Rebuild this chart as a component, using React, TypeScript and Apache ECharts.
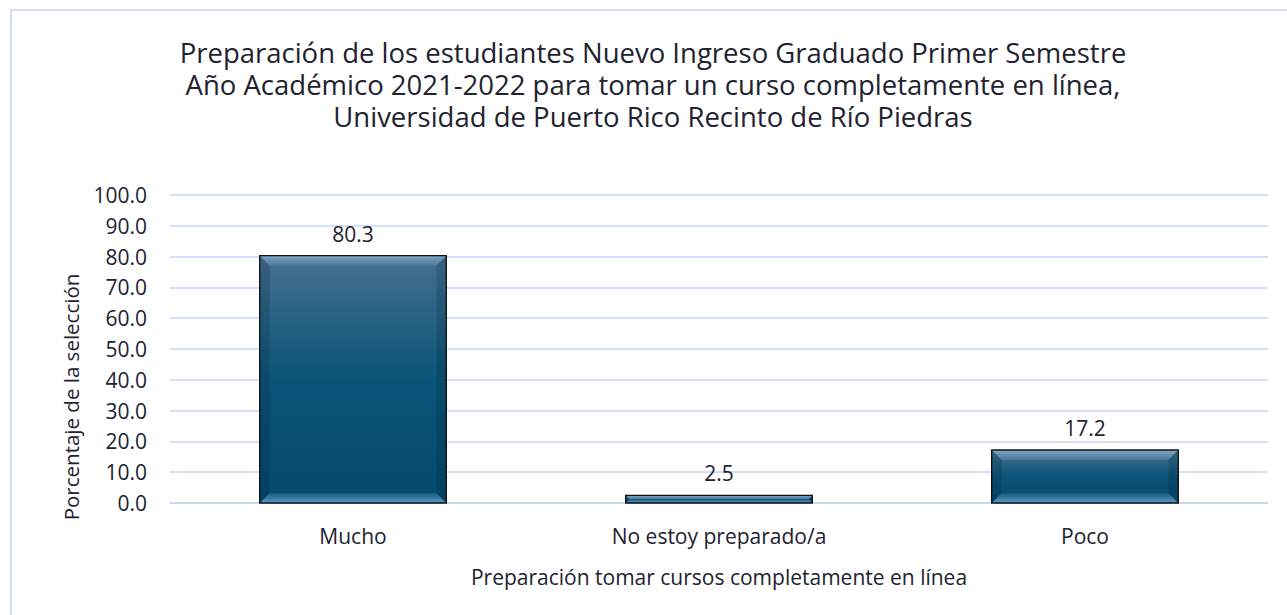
import React, { useEffect, useRef } from "react";
import * as echarts from "echarts";

const titleLines = [
  "Preparación de los estudiantes Nuevo Ingreso Graduado Primer Semestre",
  "Año Académico 2021-2022 para tomar un curso completamente en línea,",
  "Universidad de Puerto Rico Recinto de Río Piedras",
];
const categories = ["Mucho", "No estoy preparado/a", "Poco"];
const values = [80.3, 2.5, 17.2];
const yAxisName = "Porcentaje de la selección";
const xAxisName = "Preparación tomar cursos completamente en línea";

const FONT = "Open Sans";
const TEXT = "#222230";

export default function App() {
  const ref = useRef<HTMLDivElement>(null);
  useEffect(() => {
    if (!ref.current) return;
    const chart = echarts.init(ref.current, undefined, { renderer: "svg" });
    const lg = (stops: [number, string][]) =>
      new echarts.graphic.LinearGradient(0, 0, 0, 1, stops.map(([offset, color]) => ({ offset, color })));
    chart.setOption({
      animation: false,
      backgroundColor: "#ffffff",
      textStyle: { fontFamily: FONT },
      graphic: [
        {
          type: "rect",
          shape: { x: 11, y: 10, width: 1400, height: 700 },
          style: { fill: "none", stroke: "#D3DEF7", lineWidth: 2 },
          silent: true,
        },
        {
          type: "text",
          x: 71,
          y: 397,
          rotation: Math.PI / 2,
          style: {
            text: yAxisName,
            align: "center",
            verticalAlign: "middle",
            fontFamily: FONT,
            fontSize: 20.5,
            fill: TEXT,
          },
          silent: true,
        },
      ],
      title: {
        text: titleLines.join("\n"),
        left: 648,
        top: 31,
        textAlign: "center",
        textStyle: {
          fontFamily: FONT,
          fontSize: 27.5,
          fontWeight: "normal",
          color: TEXT,
          lineHeight: 32,
        },
      },
      grid: { left: 170, right: 19, top: 195, bottom: 112 },
      xAxis: {
        type: "category",
        data: categories,
        name: xAxisName,
        nameLocation: "middle",
        nameGap: 63,
        nameTextStyle: { fontFamily: FONT, fontSize: 21, color: TEXT },
        axisLine: { show: true, lineStyle: { color: "#C8D5F5", width: 1.5 } },
        axisTick: { show: false },
        axisLabel: { fontFamily: FONT, fontSize: 21, color: TEXT, margin: 22 },
      },
      yAxis: {
        type: "value",
        min: 0,
        max: 100,
        interval: 10,
        axisLine: { show: false },
        axisTick: { show: false },
        axisLabel: {
          fontFamily: FONT,
          fontSize: 21,
          color: TEXT,
          margin: 23,
          formatter: (v: number) => v.toFixed(1),
        },
        splitLine: { lineStyle: { color: "#C8D5F5", width: 1.5 } },
      },
      series: [
        {
          type: "custom",
          data: values.map((v, i) => [i, v]),
          encode: { x: 0, y: 1 },
          renderItem: (params: any, api: any) => {
            const idx = api.value(0);
            const val = api.value(1);
            const start = api.coord([idx, 0]);
            const end = api.coord([idx, val]);
            const w = api.size([1, 0])[0] * 0.51;
            const x0 = start[0] - w / 2;
            const top = end[1];
            const bottom = start[1];
            const h = bottom - top;
            const b = Math.min(10, h / 2, w / 2);
            return {
              type: "group",
              children: [
                {
                  type: "rect",
                  shape: { x: x0, y: top, width: w, height: h },
                  style: {
                    fill: lg([
                      [0, "#46708F"],
                      [0.5, "#0B5479"],
                      [1, "#06496E"],
                    ]),
                  },
                },
                {
                  type: "polygon",
                  shape: {
                    points: [
                      [x0, top],
                      [x0 + w, top],
                      [x0 + w - b, top + b],
                      [x0 + b, top + b],
                    ],
                  },
                  style: {
                    fill: lg([
                      [0, "#7FA5C3"],
                      [1, "#4A7799"],
                    ]),
                  },
                },
                {
                  type: "polygon",
                  shape: {
                    points: [
                      [x0, bottom],
                      [x0 + w, bottom],
                      [x0 + w - b, bottom - b],
                      [x0 + b, bottom - b],
                    ],
                  },
                  style: {
                    fill: lg([
                      [0, "#15597F"],
                      [1, "#5B9CC4"],
                    ]),
                  },
                },
                {
                  type: "polygon",
                  shape: {
                    points: [
                      [x0, top],
                      [x0 + b, top + b],
                      [x0 + b, bottom - b],
                      [x0, bottom],
                    ],
                  },
                  style: { fill: "rgba(0,25,50,0.18)" },
                },
                {
                  type: "polygon",
                  shape: {
                    points: [
                      [x0 + w, top],
                      [x0 + w - b, top + b],
                      [x0 + w - b, bottom - b],
                      [x0 + w, bottom],
                    ],
                  },
                  style: { fill: "rgba(0,25,50,0.18)" },
                },
                {
                  type: "rect",
                  shape: { x: x0, y: top, width: w, height: h },
                  style: { fill: "none", stroke: "#111111", lineWidth: 1.3 },
                },
                {
                  type: "text",
                  style: {
                    text: val.toFixed(1),
                    x: start[0],
                    y: top - 22,
                    align: "center",
                    verticalAlign: "middle",
                    fontFamily: FONT,
                    fontSize: 21,
                    fill: TEXT,
                  },
                },
              ],
            };
          },
        },
      ],
    });
    return () => chart.dispose();
  }, []);
  return (
    <div
      ref={ref}
      style={{ position: "fixed", left: 0, top: 0, width: 1287, height: 615 }}
    />
  );
}
